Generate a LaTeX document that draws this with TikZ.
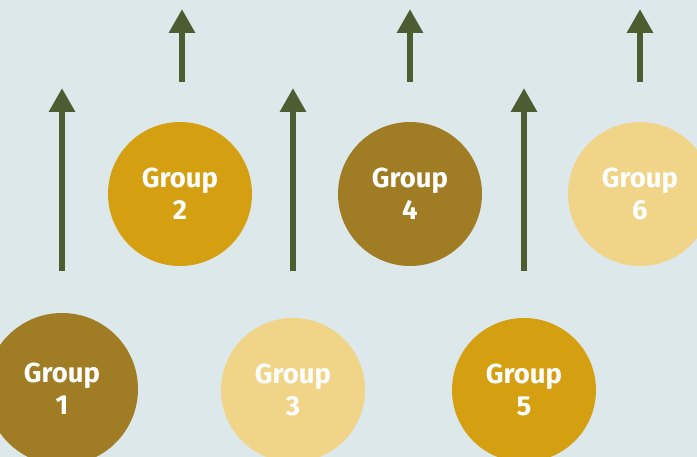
\documentclass[tikz,border=0pt]{standalone}
\usepackage{fontspec}
\setmainfont{Fira Sans}
\usetikzlibrary{arrows.meta}
\definecolor{fondo}{HTML}{DDE8EA}
\definecolor{oscuro}{HTML}{A07D24}
\definecolor{dorado}{HTML}{D4A012}
\definecolor{claro}{HTML}{F0D487}
\definecolor{oliva}{HTML}{4B5D31}

\begin{document}
\begin{tikzpicture}[x=1pt,y=-1pt,line cap=butt,
    grupo/.style={circle,inner sep=0pt,text=white,align=center,
      font=\bfseries\fontsize{27.5}{32}\selectfont},
    flecha/.style={oliva,line width=6pt,-{Triangle[width=25pt,length=24pt]}}]
        \fill[fondo] (0,0) rectangle (697,457);
        \useasboundingbox (0,0) rectangle (697,457);
        \clip (0,0) rectangle (697,457);
        % lower row arrows
        \foreach \x in {62,293,524}{
          \coordinate (b\x) at (\x,271);
          \coordinate (t\x) at (\x,88);
          \draw[flecha] (b\x) -- (t\x);
        }
        % upper row arrows
        \foreach \x in {182,410,640}{
          \coordinate (b\x) at (\x,82);
          \coordinate (t\x) at (\x,9);
          \draw[flecha] (b\x) -- (t\x);
        }
        \foreach \n/\x/\y/\c/\r in {1/62/389/oscuro/76, 2/180/194/dorado/72,
              3/293/390/claro/72, 4/410/194/oscuro/72,
              5/524/390/dorado/72, 6/640/194/claro/72}{
          \node[grupo,fill=\c,minimum size=2*\r] (g\n) at (\x,\y) {Group\\\n};
        }
      \end{tikzpicture}
\end{document}
